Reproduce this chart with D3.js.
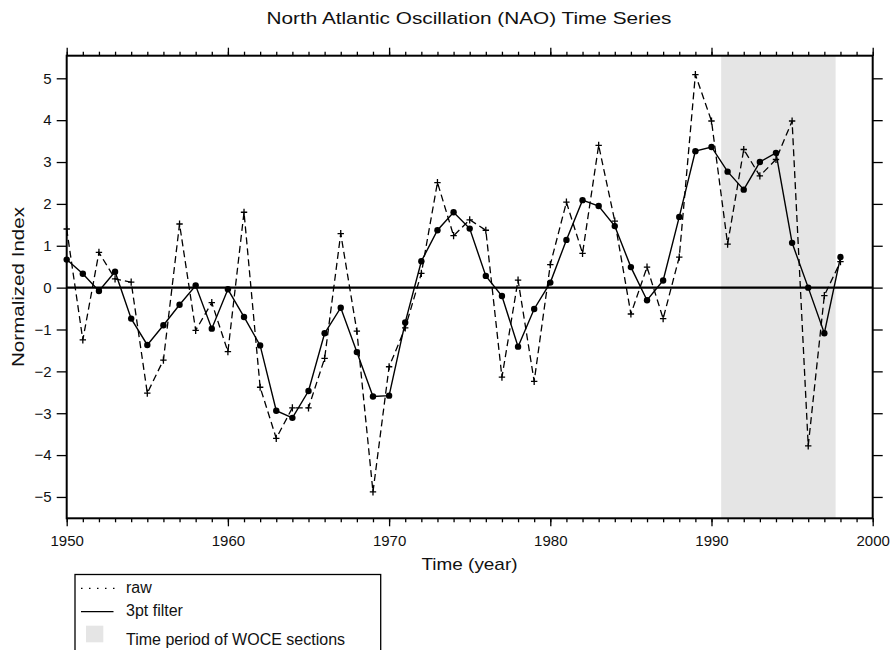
<!DOCTYPE html>
<html lang="en">
<head>
<meta charset="utf-8">
<title>North Atlantic Oscillation (NAO) Time Series</title>
<script src="https://d3js.org/d3.v7.min.js"></script>
<style>
  body { margin: 0; background: #fff; }
  svg { font-family: "Liberation Sans", Arial, sans-serif; }
  .axis text { font-size: 15px; fill: #111; }
  .axis path, .axis line { stroke: #000; }
</style>
</head>
<body>
<script>
// Data - NAO index, raw yearly values and 3-point running mean
const years = d3.range(1950, 1999);
const rawValues = [
  1.40, -1.25, 0.84, 0.21, 0.13, -2.52, -1.73, 1.52, -1.02, -0.36,
  -1.53, 1.80, -2.38, -3.60, -2.87, -2.87, -1.69, 1.29, -1.04, -4.88,
  -1.89, -0.96, 0.34, 2.51, 1.24, 1.62, 1.37, -2.14, 0.18, -2.24,
  0.55, 2.04, 0.82, 3.40, 1.59, -0.63, 0.49, -0.74, 0.73, 5.09,
  3.98, 1.04, 3.30, 2.67, 3.06, 3.98, -3.78, -0.19, 0.62
];
const filterValues = [
  0.67, 0.33, -0.08, 0.38, -0.74, -1.37, -0.90, -0.41, 0.05, -0.98,
  -0.04, -0.70, -1.38, -2.94, -3.11, -2.47, -1.09, -0.48, -1.54, -2.60,
  -2.58, -0.83, 0.63, 1.37, 1.80, 1.41, 0.28, -0.20, -1.41, -0.51,
  0.12, 1.14, 2.09, 1.95, 1.47, 0.49, -0.30, 0.17, 1.69, 3.26,
  3.36, 2.77, 2.34, 3.00, 3.22, 1.07, 0.00, -1.09, 0.73
];
const woce = [1990.6, 1997.7];
const yTicks = [-5, -4, -3, -2, -1, 0, 1, 2, 3, 4, 5];
const xTicks = [1950, 1960, 1970, 1980, 1990, 2000];

const w = 892, h = 650;
const pLeft = 66.7, pRight = 872.7, pTop = 55.7, pBottom = 518.3;

const x = d3.scaleLinear().domain([1950, 2000]).range([pLeft, pRight]);
const y = d3.scaleLinear().domain([-5.51, 5.54]).range([pBottom, pTop]);

const svg = d3.select("body").append("svg")
  .attr("width", w)
  .attr("height", h);

// WOCE band
svg.append("rect")
  .attr("x", x(woce[0]))
  .attr("y", pTop)
  .attr("width", x(woce[1]) - x(woce[0]))
  .attr("height", pBottom - pTop)
  .attr("fill", "#e5e5e5");

// zero line
svg.append("line")
  .attr("x1", pLeft).attr("x2", pRight)
  .attr("y1", y(0)).attr("y2", y(0))
  .attr("stroke", "#000")
  .attr("stroke-width", 2.2);

const raw = years.map((d, i) => ({ year: d, v: rawValues[i] }));
const filt = years.map((d, i) => ({ year: d, v: filterValues[i] }));

const line = d3.line().x(d => x(d.year)).y(d => y(d.v));

// raw, dashed
svg.append("path")
  .attr("d", line(raw))
  .attr("fill", "none")
  .attr("stroke", "#000")
  .attr("stroke-width", 1.3)
  .attr("stroke-dasharray", "7,4");

svg.selectAll(".plus")
  .data(raw)
  .join("path")
  .attr("class", "plus")
  .attr("d", d => `M${x(d.year) - 3.2},${y(d.v)}h6.4M${x(d.year)},${y(d.v) - 3.6}v7.2`)
  .attr("stroke", "#000")
  .attr("stroke-width", 1.3);

// 3pt filter, solid
svg.append("path")
  .attr("d", line(filt))
  .attr("fill", "none")
  .attr("stroke", "#000")
  .attr("stroke-width", 1.4);

svg.selectAll(".dot")
  .data(filt)
  .join("circle")
  .attr("class", "dot")
  .attr("cx", d => x(d.year))
  .attr("cy", d => y(d.v))
  .attr("r", 3.2)
  .attr("fill", "#000");

// axes - ticks pointing outward, minor ticks every year on x
const yearMinor = d3.range(1950, 2001);

svg.append("g").attr("class", "axis")
  .attr("transform", `translate(0,${pBottom})`)
  .call(d3.axisBottom(x).tickValues(yearMinor).tickSize(4).tickFormat(""))
  .call(g => g.select(".domain").remove());
svg.append("g").attr("class", "axis")
  .attr("transform", `translate(0,${pBottom})`)
  .call(d3.axisBottom(x).tickValues(xTicks).tickSize(8).tickPadding(9).tickFormat(d3.format("d")))
  .call(g => g.select(".domain").remove());

svg.append("g").attr("class", "axis")
  .attr("transform", `translate(0,${pTop})`)
  .call(d3.axisTop(x).tickValues(yearMinor).tickSize(4).tickFormat(""))
  .call(g => g.select(".domain").remove());
svg.append("g").attr("class", "axis")
  .attr("transform", `translate(0,${pTop})`)
  .call(d3.axisTop(x).tickValues(xTicks).tickSize(8).tickFormat(""))
  .call(g => g.select(".domain").remove());

svg.append("g").attr("class", "axis")
  .attr("transform", `translate(${pLeft},0)`)
  .call(d3.axisLeft(y).tickValues(yTicks).tickSize(10).tickPadding(5).tickFormat(d3.format("d")))
  .call(g => g.select(".domain").remove());
svg.append("g").attr("class", "axis")
  .attr("transform", `translate(${pRight},0)`)
  .call(d3.axisRight(y).tickValues(yTicks).tickSize(10).tickFormat(""))
  .call(g => g.select(".domain").remove());

svg.selectAll(".axis line").attr("stroke-width", 1.3);

// frame
svg.append("rect")
  .attr("x", pLeft).attr("y", pTop)
  .attr("width", pRight - pLeft).attr("height", pBottom - pTop)
  .attr("fill", "none")
  .attr("stroke", "#000")
  .attr("stroke-width", 2);

// title and axis labels (the original type is set a little wide)
svg.append("text")
  .attr("x", 469).attr("y", 23.5)
  .attr("text-anchor", "middle")
  .attr("font-size", 17)
  .attr("fill", "#111")
  .attr("textLength", 405)
  .attr("lengthAdjust", "spacingAndGlyphs")
  .text("North Atlantic Oscillation (NAO) Time Series");

svg.append("text")
  .attr("x", 469.5).attr("y", 569.5)
  .attr("text-anchor", "middle")
  .attr("font-size", 17)
  .attr("fill", "#111")
  .attr("textLength", 96)
  .attr("lengthAdjust", "spacingAndGlyphs")
  .text("Time (year)");

svg.append("text")
  .attr("transform", `translate(23.5,${(pTop + pBottom) / 2}) rotate(-90)`)
  .attr("text-anchor", "middle")
  .attr("font-size", 17)
  .attr("fill", "#111")
  .attr("textLength", 160)
  .attr("lengthAdjust", "spacingAndGlyphs")
  .text("Normalized Index");

// legend
const lg = svg.append("g");
lg.append("rect")
  .attr("x", 75).attr("y", 574.5)
  .attr("width", 305.7).attr("height", 90)
  .attr("fill", "#fff")
  .attr("stroke", "#000")
  .attr("stroke-width", 1.3);
lg.append("line")
  .attr("x1", 81).attr("x2", 115).attr("y1", 588.3).attr("y2", 588.3)
  .attr("stroke", "#000").attr("stroke-width", 1.2)
  .attr("stroke-dasharray", "1.5,6.5");
lg.append("text").attr("x", 126).attr("y", 592.7).attr("font-size", 16).attr("fill", "#111").text("raw");
lg.append("line")
  .attr("x1", 81).attr("x2", 113.5).attr("y1", 611.7).attr("y2", 611.7)
  .attr("stroke", "#000").attr("stroke-width", 1.2);
lg.append("text").attr("x", 126).attr("y", 616).attr("font-size", 16).attr("fill", "#111").text("3pt filter");
lg.append("rect")
  .attr("x", 86).attr("y", 625.7).attr("width", 17.3).attr("height", 16.6)
  .attr("fill", "#e5e5e5");
lg.append("text").attr("x", 126).attr("y", 645).attr("font-size", 16).attr("fill", "#111").text("Time period of WOCE sections");
</script>
</body>
</html>
